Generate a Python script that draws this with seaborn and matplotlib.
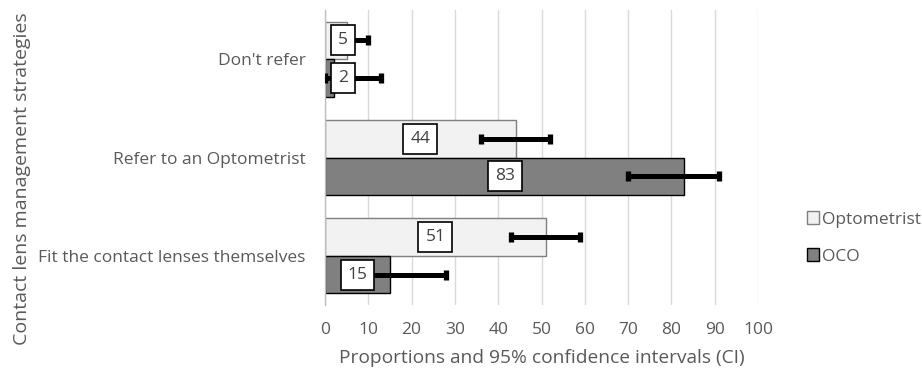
import matplotlib
matplotlib.use("Agg")
import matplotlib.pyplot as plt
import seaborn as sns
import pandas as pd
from matplotlib.patches import Patch

# Survey results: share of respondents choosing each strategy, with 95% CI
strategies = ["Don't refer", "Refer to an Optometrist", "Fit the contact lenses themselves"]
groups = ["Optometrist", "OCO"]
optometrist_pct = [5, 44, 51]
oco_pct = [2, 83, 15]
optometrist_ci_low = [2, 36, 43]
optometrist_ci_high = [10, 52, 59]
oco_ci_low = [0, 70, 5]
oco_ci_high = [13, 91, 28]
x_ticks = [0, 10, 20, 30, 40, 50, 60, 70, 80, 90, 100]

df = pd.DataFrame({
    "strategy": strategies * 2,
    "group": [groups[0]] * 3 + [groups[1]] * 3,
    "pct": optometrist_pct + oco_pct,
})

sns.set_theme(style="white")
plt.rcParams["font.family"] = ["Open Sans", "DejaVu Sans"]
text_col = "#595959"

fig = plt.figure(figsize=(9.22, 3.75), dpi=100)
ax = fig.add_axes([325 / 922, 1 - 305 / 375, (758 - 325) / 922, (305 - 10) / 375])

fills = {"Optometrist": "#F2F2F2", "OCO": "#808080"}
edges = {"Optometrist": "#7F7F7F", "OCO": "#000000"}

sns.barplot(data=df, x="pct", y="strategy", hue="group", order=strategies,
            hue_order=groups, palette=fills, orient="h", width=0.765,
            errorbar=None, ax=ax, legend=False, zorder=2, saturation=1)

ci = {"Optometrist": (optometrist_ci_low, optometrist_ci_high),
      "OCO": (oco_ci_low, oco_ci_high)}
vals = {"Optometrist": optometrist_pct, "OCO": oco_pct}

for grp, cont in zip(groups, ax.containers):
    lo, hi = ci[grp]
    for i, bar in enumerate(cont):
        bar.set_edgecolor(edges[grp])
        bar.set_linewidth(1.0)
        yc = bar.get_y() + bar.get_height() / 2
        v = vals[grp][i]
        ax.errorbar(v, yc, xerr=[[v - lo[i]], [hi[i] - v]], fmt="none",
                    ecolor="black", elinewidth=3.6, capsize=3.8, capthick=3.8,
                    zorder=3)
        ax.text(max(v / 2, 4.2), yc, f"{v}", ha="center", va="center",
                fontsize=12.5, color="#404040", zorder=5,
                bbox=dict(boxstyle="square,pad=0.4", fc="white",
                          ec="black", lw=1.2))

ax.set_xlim(0, 100)
ax.set_ylim(2.5, -0.5)
ax.set_xticks(x_ticks)
ax.set_xticklabels([str(t) for t in x_ticks])
ax.xaxis.grid(True, color="#D9D9D9", lw=1.0, zorder=0)
ax.set_axisbelow(True)
for s in ["top", "right", "bottom"]:
    ax.spines[s].set_visible(False)
ax.spines["left"].set_color("#BFBFBF")
ax.spines["left"].set_linewidth(1.0)
ax.tick_params(axis="both", length=0, labelsize=12.5, labelcolor=text_col)
ax.tick_params(axis="x", pad=12)
ax.tick_params(axis="y", pad=14)
ax.set_xlabel("Proportions and 95% confidence intervals (CI)", fontsize=13.8,
              color=text_col, labelpad=8)
ax.set_ylabel("")
fig.text(22 / 922, 1 - 179 / 375, "Contact lens management strategies",
         rotation=90, ha="center", va="center", fontsize=14, color=text_col)

handles = [Patch(facecolor=fills[g], edgecolor=edges[g], lw=1.0) for g in groups]
leg = fig.legend(handles, groups, loc="center left",
                 bbox_to_anchor=(798 / 922, 1 - 238 / 375), frameon=False,
                 fontsize=12.5, handlelength=0.7, handleheight=0.7,
                 handletextpad=0.2, labelspacing=1.2, borderpad=0)
for t in leg.get_texts():
    t.set_color(text_col)

fig.savefig("out.png", dpi=100)
